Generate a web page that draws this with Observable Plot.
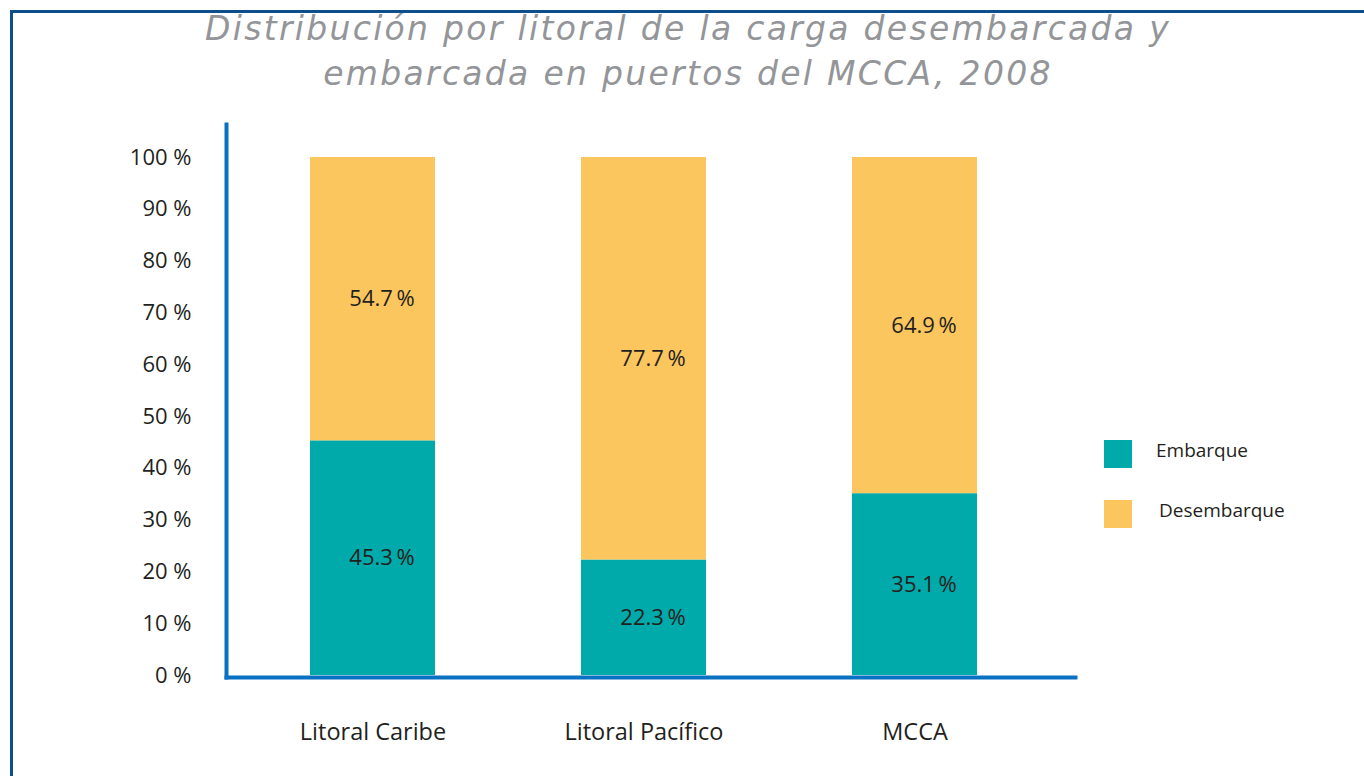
<!DOCTYPE html>
<html>
<head>
<meta charset="utf-8">
<script src="https://cdn.jsdelivr.net/npm/d3@7"></script>
<script src="https://cdn.jsdelivr.net/npm/@observablehq/plot@0.6"></script>
<style>
  html, body { margin: 0; padding: 0; background: #fff; width: 1364px; height: 776px; overflow: hidden; }
  #border { position: absolute; left: 10px; top: 10px; width: 1400px; height: 800px;
            border-left: 3px solid #0d4e8c; border-top: 3px solid #0d4e8c; pointer-events: none; }
  #title { position: absolute; left: 0; top: 0; width: 1364px; height: 115px; text-align: center;
           font-family: "DejaVu Sans", sans-serif; font-style: italic; font-weight: normal; font-size: 33px;
           letter-spacing: 2.3px; color: #939598; line-height: 45px; padding-top: 6px; padding-left: 12px; box-sizing: border-box; }
  #chart { position: absolute; left: 0; top: 115px; }
  .leg { position: absolute; font-family: "Open Sans", sans-serif; font-size: 19px; color: #231f20; }
  .sw { position: absolute; width: 28px; height: 28px; }
</style>
</head>
<body>
<div id="title">Distribución por litoral de la carga desembarcada y<br>embarcada en puertos del MCCA, 2008</div>
<div id="chart"></div>
<div id="legend"></div>
<div id="border"></div>
<script>
const categories = ["Litoral Caribe", "Litoral Pacífico", "MCCA"];
const series = ["Embarque", "Desembarque"];
const embarque = [45.3, 22.3, 35.1];
const desembarque = [54.7, 77.7, 64.9];
const seriesColors = ["#00a9aa", "#fcc65e"];
const yTicks = [0, 10, 20, 30, 40, 50, 60, 70, 80, 90, 100];

const values = [embarque, desembarque];
const data = [];
series.forEach((s, si) => categories.forEach((c, ci) => data.push({cat: c, series: s, value: values[si][ci]})));

const axisBlue = "#0971c1";
const chart = Plot.plot({
  width: 1364,
  height: 661,
  marginLeft: 226,
  marginRight: 289,
  marginTop: 9,
  marginBottom: 99,
  style: {fontFamily: "Open Sans, sans-serif", color: "#231f20", background: "transparent"},
  x: {domain: categories, paddingInner: 0.54, paddingOuter: 0.333, align: 0.46, axis: null},
  y: {domain: [0, 100], range: [560, 42], axis: null},
  color: {domain: series, range: seriesColors},
  marks: [
    Plot.barY(data, Plot.stackY({x: "cat", y: "value", fill: "series"})),
    Plot.text(data, Plot.stackY({x: "cat", y: "value", text: d => d.value.toFixed(1) + "\u2009%", fontSize: 22, fill: "#231f20", dx: 9})),
    Plot.axisY({ticks: yTicks, tickFormat: d => d + " %", tickSize: 0, tickPadding: 35, fontSize: 22, label: null}),
    Plot.axisX({tickSize: 0, tickPadding: 46, fontSize: 23.5, label: null}),
    Plot.frame({anchor: "left", stroke: axisBlue, strokeWidth: 4}),
    Plot.frame({anchor: "bottom", stroke: axisBlue, strokeWidth: 4})
  ]
});
document.getElementById("chart").appendChild(chart);

const legend = document.getElementById("legend");
const legPos = [{sy: 440, tx: 1156}, {sy: 500, tx: 1159}];
series.forEach((s, i) => {
  const sw = document.createElement("div");
  sw.className = "sw";
  sw.style.left = "1104px";
  sw.style.top = legPos[i].sy + "px";
  sw.style.background = seriesColors[i];
  legend.appendChild(sw);
  const t = document.createElement("div");
  t.className = "leg";
  t.style.left = legPos[i].tx + "px";
  t.style.top = (legPos[i].sy - 3) + "px";
  t.textContent = s;
  legend.appendChild(t);
});
</script>
</body>
</html>
